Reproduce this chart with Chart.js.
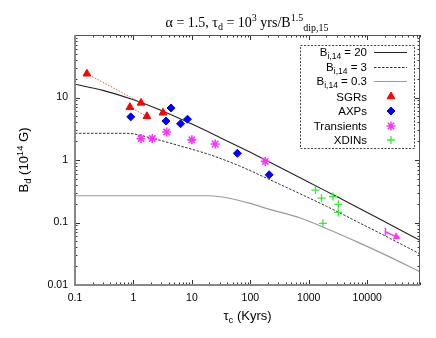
<!DOCTYPE html>
<html>
<head>
<meta charset="utf-8">
<script src="https://cdn.jsdelivr.net/npm/chart.js@4.4.1/dist/chart.umd.min.js"></script>
<style>
  html, body { margin: 0; padding: 0; background: #fff; }
</style>
</head>
<body>
<canvas id="fieldChart" width="436" height="338"></canvas>
<script>
// model curves, B_d (1e14 G) against tau_c (kyr)
const curve20Tau = [0.1, 0.3, 1, 3, 10, 30, 100, 300, 1000, 3000, 10000, 30000, 80000];
const curve20B = [16.3, 13.0, 9.2, 6.2, 3.75, 2.3, 1.33, 0.79, 0.44, 0.26, 0.145, 0.084, 0.052];
const curve3Tau = [0.1, 0.77, 2, 6, 20, 66, 200, 700, 2000, 7000, 20000, 80000];
const curve3B = [2.67, 2.67, 2.25, 1.7, 1.22, 0.80, 0.50, 0.29, 0.182, 0.101, 0.0614, 0.0314];
const curve03Tau = [0.1, 20, 50, 100, 200, 700, 2000, 7000, 20000, 80000];
const curve03B = [0.268, 0.268, 0.238, 0.202, 0.165, 0.119, 0.08, 0.048, 0.0306, 0.0163];

// sources
const sgrTau = [0.16, 1.35, 0.87, 1.7, 3.2];
const sgrB = [24, 8.2, 7.0, 5.0, 5.7];
const sgrLinks = [[0, 1], [2, 3]];
const axpTau = [0.9, 4.4, 3.6, 6.4, 8.4, 60, 210];
const axpB = [4.9, 6.8, 4.2, 3.8, 4.5, 1.28, 0.58];
const transTau = [1.35, 2.1, 3.7, 10, 25, 180];
const transB = [2.2, 2.2, 2.8, 2.1, 1.8, 0.95];
const transLimitTau = [20500, 31500];
const transLimitB = [0.071, 0.059];
const xdinTau = [1300, 1650, 2600, 3200, 3200, 1750];
const xdinB = [0.33, 0.245, 0.26, 0.195, 0.145, 0.097];

const xTickLabels = ['0.1', '1', '10', '100', '1000', '10000'];
const yTickLabels = ['0.01', '0.1', '1', '10'];

const pts = (xs, ys) => xs.map((x, i) => ({ x: x, y: ys[i] }));

const RED = '#ff0000', BLUE = '#0000ff', MAGENTA = '#ff33ff', GREEN = '#33ee33';

function logTicks(min, max) {
  const t = [];
  for (let e = -3; e <= 6; e++) {
    for (let m = 1; m < 10; m++) {
      const v = m * Math.pow(10, e);
      if (v >= min * 0.999 && v <= max * 1.001) t.push({ value: v });
    }
  }
  return t;
}
const isDecade = v => Math.abs(Math.log10(v) - Math.round(Math.log10(v))) < 1e-6;
function labelFor(v, labels) {
  const hit = labels.find(l => Math.abs(Math.log10(parseFloat(l)) - Math.log10(v)) < 1e-6);
  return hit || '';
}

const datasets = [];
datasets.push({
  label: 'SGRs', data: pts(sgrTau, sgrB), showLine: false,
  pointStyle: 'triangle', pointRadius: 4.5, backgroundColor: RED, borderColor: RED, borderWidth: 1
});
datasets.push({
  label: 'AXPs', data: pts(axpTau, axpB), showLine: false,
  pointStyle: 'rectRot', pointRadius: 4, backgroundColor: BLUE, borderColor: BLUE, borderWidth: 1
});
datasets.push({
  label: 'Transients', data: pts(transTau, transB), showLine: false,
  pointStyle: 'star', pointRadius: 4.5, backgroundColor: MAGENTA, borderColor: MAGENTA, borderWidth: 1.6
});
datasets.push({
  label: 'limit', data: pts(transLimitTau, transLimitB), showLine: true,
  borderColor: MAGENTA, backgroundColor: MAGENTA, borderWidth: 1.5,
  pointStyle: ['line', 'triangle'], rotation: [90, 113], pointRadius: [4, 3], pointBorderWidth: 1.5
});
datasets.push({
  label: 'XDINs', data: pts(xdinTau, xdinB), showLine: false,
  pointStyle: 'cross', pointRadius: 4, borderColor: GREEN, backgroundColor: GREEN, borderWidth: 1.3
});
sgrLinks.forEach(([a, b]) => {
  datasets.push({
    label: 'sgr-link', data: [{ x: sgrTau[a], y: sgrB[a] }, { x: sgrTau[b], y: sgrB[b] }],
    showLine: true, pointRadius: 0, borderColor: '#ff5050', borderWidth: 1, borderDash: [1.5, 1.5]
  });
});
datasets.push({
  label: 'B20', data: pts(curve20Tau, curve20B), showLine: true, pointRadius: 0,
  borderColor: '#222', borderWidth: 1.1, cubicInterpolationMode: 'monotone'
});
datasets.push({
  label: 'B3', data: pts(curve3Tau, curve3B), showLine: true, pointRadius: 0,
  borderColor: '#333', borderWidth: 1, borderDash: [2.5, 1.5], cubicInterpolationMode: 'monotone'
});
datasets.push({
  label: 'B03', data: pts(curve03Tau, curve03B), showLine: true, pointRadius: 0,
  borderColor: '#9a9a9a', borderWidth: 1.2, cubicInterpolationMode: 'monotone'
});

// text with sub/superscripts: parts = [text, size, dy]
function richWidth(ctx, parts, family) {
  let w = 0;
  parts.forEach(p => { ctx.font = p[1] + 'px ' + family; w += ctx.measureText(p[0]).width; });
  return w;
}
function drawRich(ctx, parts, x, y, family, align) {
  let cx = x;
  const w = richWidth(ctx, parts, family);
  if (align === 'center') cx = x - w / 2;
  if (align === 'right') cx = x - w;
  ctx.textAlign = 'left';
  ctx.textBaseline = 'alphabetic';
  parts.forEach(p => {
    ctx.font = p[1] + 'px ' + family;
    ctx.fillText(p[0], cx, y + p[2]);
    cx += ctx.measureText(p[0]).width;
  });
}

function marker(ctx, style, x, y, color) {
  ctx.save();
  ctx.fillStyle = color;
  ctx.strokeStyle = color;
  const opts = {
    triangle: { pointStyle: 'triangle', radius: 4.5, borderWidth: 1 },
    rectRot: { pointStyle: 'rectRot', radius: 4, borderWidth: 1 },
    star: { pointStyle: 'star', radius: 4.5, borderWidth: 1.5 },
    cross: { pointStyle: 'cross', radius: 4, borderWidth: 1.3 }
  }[style];
  ctx.lineWidth = opts.borderWidth;
  Chart.helpers.drawPoint(ctx, opts, x, y);
  ctx.restore();
}

const decorPlugin = {
  id: 'decor',
  afterDraw(chart) {
    const ctx = chart.ctx;
    const a = chart.chartArea;
    const xs = chart.scales.x, ys = chart.scales.y;
    ctx.save();

    // tick marks, inward, mirrored
    ctx.strokeStyle = '#333';
    ctx.lineWidth = 1;
    xs.ticks.forEach(t => {
      const px = Math.round(xs.getPixelForValue(t.value)) + 0.5;
      const len = isDecade(t.value) ? 5 : 2.5;
      ctx.beginPath();
      ctx.moveTo(px, a.bottom); ctx.lineTo(px, a.bottom - len);
      ctx.moveTo(px, a.top); ctx.lineTo(px, a.top + len);
      ctx.stroke();
    });
    ys.ticks.forEach(t => {
      const py = Math.round(ys.getPixelForValue(t.value)) + 0.5;
      const len = isDecade(t.value) ? 5 : 2.5;
      ctx.beginPath();
      ctx.moveTo(a.left, py); ctx.lineTo(a.left + len, py);
      ctx.moveTo(a.right, py); ctx.lineTo(a.right - len, py);
      ctx.stroke();
    });

    // frame
    ctx.strokeStyle = '#555';
    ctx.lineWidth = 1;
    ctx.beginPath();
    ctx.moveTo(a.left, a.top + 0.5); ctx.lineTo(a.right, a.top + 0.5);
    ctx.moveTo(a.right - 0.5, a.top); ctx.lineTo(a.right - 0.5, a.bottom);
    ctx.stroke();
    ctx.strokeStyle = '#888';
    ctx.lineWidth = 2;
    ctx.beginPath();
    ctx.moveTo(a.left, a.top); ctx.lineTo(a.left, a.bottom);
    ctx.lineTo(a.right, a.bottom);
    ctx.stroke();

    // titles
    ctx.fillStyle = '#000';
    drawRich(ctx, [['\u03b1 = 1.5, \u03c4', 14, 0], ['d', 10, 3], [' = 10', 14, 0], ['3', 10, -6],
      [' yrs/B', 14, 0], ['1.5', 10, -6], ['dip,15', 10, 4]], 247, 27, '"Liberation Serif", serif', 'center');
    drawRich(ctx, [['\u03c4', 13, 0], ['c', 9.5, 3], [' (Kyrs)', 13, 0]],
      (a.left + a.right) / 2, 320, '"Liberation Sans", Arial, sans-serif', 'center');
    ctx.save();
    ctx.translate(23, (a.top + a.bottom) / 2);
    ctx.rotate(-Math.PI / 2);
    drawRich(ctx, [['B', 13, 0], ['d', 9.5, 3], [' (10', 13, 0], ['14', 9.5, -5], [' G)', 13, 0]],
      0, 5, '"Liberation Sans", Arial, sans-serif', 'center');
    ctx.restore();

    // legend
    const lx0 = 300, lx1 = 414, ly0 = 45, ly1 = 148;
    ctx.strokeStyle = '#444';
    ctx.lineWidth = 1;
    ctx.setLineDash([2, 1.5]);
    ctx.strokeRect(lx0 + 0.5, ly0 + 0.5, lx1 - lx0, ly1 - ly0);
    ctx.setLineDash([]);
    const rows = [52, 66.5, 81, 96.5, 111, 126, 140];
    const textR = 367, sx0 = 374, sx1 = 407, mx = 391;
    const fam = '"Liberation Sans", Arial, sans-serif';
    const curveLegend = [
      { v: '20', color: '#222', dash: [], w: 1.1 },
      { v: '3', color: '#333', dash: [2.5, 1.5], w: 1 },
      { v: '0.3', color: '#9a9a9a', dash: [], w: 1.2 }
    ];
    curveLegend.forEach((c, i) => {
      const y = rows[i];
      ctx.fillStyle = '#000';
      drawRich(ctx, [['B', 11.5, 0], ['i,14', 8.5, 3], [' = ' + c.v, 11.5, 0]], textR, y + 4, fam, 'right');
      ctx.strokeStyle = c.color;
      ctx.lineWidth = c.w;
      ctx.setLineDash(c.dash);
      ctx.beginPath();
      ctx.moveTo(sx0, Math.round(y) + 0.5); ctx.lineTo(sx1, Math.round(y) + 0.5);
      ctx.stroke();
      ctx.setLineDash([]);
    });
    const markLegend = [
      { t: 'SGRs', s: 'triangle', c: RED },
      { t: 'AXPs', s: 'rectRot', c: BLUE },
      { t: 'Transients', s: 'star', c: MAGENTA },
      { t: 'XDINs', s: 'cross', c: GREEN }
    ];
    markLegend.forEach((m, i) => {
      const y = rows[i + 3];
      ctx.fillStyle = '#000';
      drawRich(ctx, [[m.t, 11.5, 0]], textR, y + 4, fam, 'right');
      marker(ctx, m.s, mx, y, m.c);
    });

    ctx.restore();
  }
};

new Chart(document.getElementById('fieldChart').getContext('2d'), {
  type: 'scatter',
  data: { datasets: datasets },
  options: {
    responsive: false,
    animation: false,
    devicePixelRatio: 1,
    layout: { padding: { top: 35, right: 16, left: 0, bottom: 0 } },
    plugins: { legend: { display: false }, tooltip: { enabled: false }, title: { display: false } },
    scales: {
      x: {
        type: 'logarithmic', min: 0.1, max: 80000,
        grid: { display: false, drawTicks: false },
        border: { display: false },
        afterBuildTicks: s => { s.ticks = logTicks(0.1, 80000); },
        afterFit: s => { s.height = 53; },
        ticks: {
          autoSkip: false, maxRotation: 0, padding: 7, color: '#000',
          font: { family: '"Liberation Sans", Arial, sans-serif', size: 10.5 },
          callback: v => labelFor(v, xTickLabels)
        }
      },
      y: {
        type: 'logarithmic', min: 0.01, max: 100,
        grid: { display: false, drawTicks: false },
        border: { display: false },
        afterBuildTicks: s => { s.ticks = logTicks(0.01, 100); },
        afterFit: s => { s.width = 75; },
        ticks: {
          autoSkip: false, padding: 7, color: '#000',
          font: { family: '"Liberation Sans", Arial, sans-serif', size: 10.5 },
          callback: v => labelFor(v, yTickLabels)
        }
      }
    }
  },
  plugins: [decorPlugin]
});
</script>
</body>
</html>
